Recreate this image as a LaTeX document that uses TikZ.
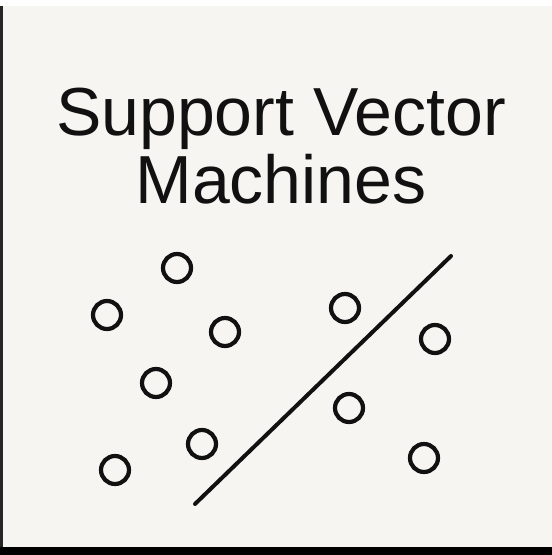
\documentclass[tikz,border=0pt]{standalone}
\usepackage{fontspec}
\setmainfont{Liberation Sans}
\definecolor{bg}{HTML}{F7F5F1}
\definecolor{ink}{HTML}{111111}
\begin{document}
\begin{tikzpicture}[x=1pt,y=-1pt,
  pt/.style={circle,draw=ink,line width=4.2pt,minimum size=28pt,inner sep=0pt},
  sep/.style={draw=ink,line width=4pt,line cap=round}]
\useasboundingbox (0,0) rectangle (552,555);
\fill[white] (0,0) rectangle (552,555);
\fill[bg] (0,6) rectangle (552,548);
\fill[black!85] (0,6) rectangle (2.5,548);
\fill[black] (0,547) rectangle (552,555);
\node[anchor=base,text=ink,font=\fontsize{68}{70}\selectfont] (t1) at (281,135) {Support Vector};
\node[anchor=base,text=ink,font=\fontsize{68}{70}\selectfont] (t2) at (281,203) {Machines};
\node[pt] (c1) at (177,268) {};
\node[pt] (c2) at (107,315) {};
\node[pt] (c3) at (225,332) {};
\node[pt] (c4) at (156,383) {};
\node[pt] (c5) at (202,444) {};
\node[pt] (c6) at (115,470) {};
\node[pt] (c7) at (345,308) {};
\node[pt] (c8) at (435,339) {};
\node[pt] (c9) at (349,408) {};
\node[pt] (c10) at (424,458) {};
\coordinate (l1) at (451,256);
\coordinate (l2) at (195,504);
\draw[sep] (l1) -- (l2);
\end{tikzpicture}
\end{document}
